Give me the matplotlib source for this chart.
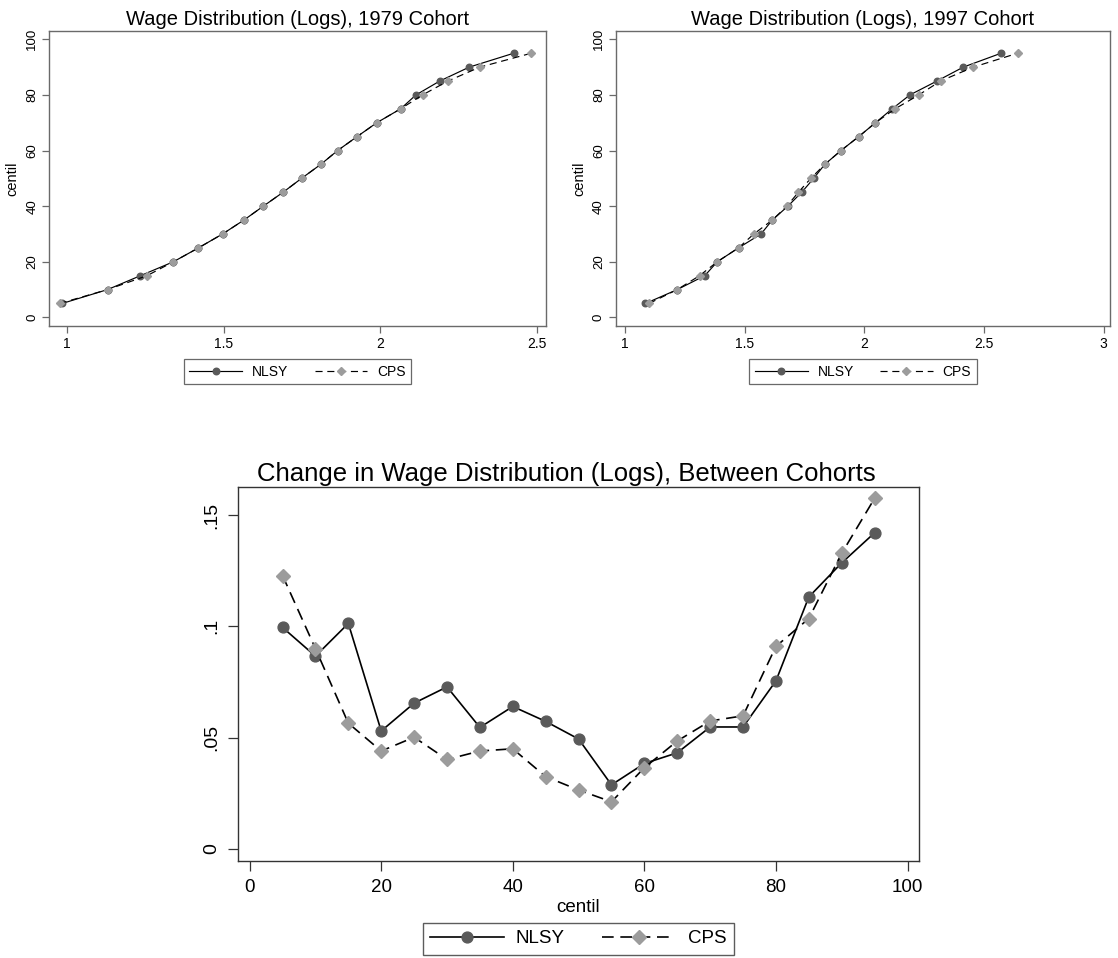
import matplotlib
matplotlib.use("Agg")
import matplotlib.pyplot as plt

plt.rcParams['font.family'] = ['Liberation Sans', 'DejaVu Sans']

# percentiles shown on every panel
centiles = [5, 10, 15, 20, 25, 30, 35, 40, 45, 50,
            55, 60, 65, 70, 75, 80, 85, 90, 95]

# log wage at each percentile, 1979 cohort
nlsy_1979 = [0.985, 1.130, 1.235, 1.340, 1.420, 1.497, 1.565, 1.627, 1.690, 1.749,
             1.810, 1.864, 1.926, 1.989, 2.065, 2.114, 2.190, 2.284, 2.426]
cps_1979 = [0.977, 1.130, 1.256, 1.340, 1.420, 1.497, 1.565, 1.627, 1.690, 1.749,
            1.810, 1.864, 1.926, 1.989, 2.065, 2.135, 2.216, 2.318, 2.482]

# log wage at each percentile, 1997 cohort
nlsy_1997 = [1.085, 1.218, 1.333, 1.385, 1.474, 1.568, 1.615, 1.680, 1.738, 1.788,
             1.834, 1.902, 1.976, 2.046, 2.116, 2.190, 2.303, 2.413, 2.571]
cps_1997 = [1.100, 1.218, 1.311, 1.385, 1.474, 1.538, 1.615, 1.676, 1.724, 1.776,
            1.834, 1.902, 1.976, 2.046, 2.128, 2.227, 2.318, 2.455, 2.640]

# change between cohorts
nlsy_change = [0.0995, 0.0866, 0.1013, 0.0530, 0.0655, 0.0728, 0.0546, 0.0640, 0.0573, 0.0494,
               0.0288, 0.0384, 0.0432, 0.0548, 0.0548, 0.0755, 0.1132, 0.1285, 0.1420]
cps_change = [0.1228, 0.0900, 0.0565, 0.0440, 0.0502, 0.0402, 0.0440, 0.0450, 0.0325, 0.0265,
              0.0212, 0.0365, 0.0485, 0.0575, 0.0598, 0.0910, 0.1035, 0.1328, 0.1575]

top_xticks = [[1, 1.5, 2, 2.5], [1, 1.5, 2, 2.5, 3]]
top_xlabels = [["1", "1.5", "2", "2.5"], ["1", "1.5", "2", "2.5", "3"]]
top_yticks = [0, 20, 40, 60, 80, 100]
bot_xticks = [0, 20, 40, 60, 80, 100]
bot_yticks = [0, 0.05, 0.1, 0.15]
bot_ylabels = ["0", ".05", ".1", ".15"]

NLSY_MK = '#5a5a5a'
CPS_MK = '#9c9c9c'

W, H = 1118, 958
fig = plt.figure(figsize=(W / 100, H / 100), dpi=100)


def px_axes(left, top, right, bottom):
    return fig.add_axes([left / W, 1 - bottom / H, (right - left) / W, (bottom - top) / H])


def style_axes(ax, spine_color, tick_len, xfs, yfs, pad):
    for side in ('top', 'right', 'left', 'bottom'):
        ax.spines[side].set_color(spine_color)
        ax.spines[side].set_linewidth(1.0)
    ax.tick_params(axis='both', direction='out', length=tick_len, width=0.9,
                   color=spine_color, pad=pad)
    ax.tick_params(axis='x', labelsize=xfs)
    ax.tick_params(axis='y', labelsize=yfs)
    for lab in ax.get_yticklabels():
        lab.set_rotation(90)
        lab.set_va('center')


# ---- top panels ----
top_specs = [
    ((49.3, 30.7, 545.7, 326), nlsy_1979, cps_1979, (0.944, 2.528), "Wage Distribution (Logs), 1979 Cohort"),
    ((616, 30.7, 1110, 326), nlsy_1997, cps_1997, (0.962, 3.026), "Wage Distribution (Logs), 1997 Cohort"),
]
for i, (box, nlsy, cps, xlim, title) in enumerate(top_specs):
    ax = px_axes(*box)
    ax.plot(nlsy, centiles, color='black', lw=0.85, marker='o', ms=4.7,
            mfc=NLSY_MK, mec=NLSY_MK, label='NLSY')
    ax.plot(cps, centiles, color='black', lw=0.85, ls=(0, (6, 4)), marker='D', ms=4.4,
            mfc=CPS_MK, mec=CPS_MK, label='CPS')
    ax.set_xlim(*xlim)
    ax.set_ylim(-3.1, 103.1)
    ax.set_xticks(top_xticks[i])
    ax.set_xticklabels(top_xlabels[i])
    ax.set_yticks(top_yticks)
    ax.set_yticklabels([str(v) for v in top_yticks])
    style_axes(ax, '#6a6a6a', 5, 10, 9.5, 3)
    ax.set_ylabel('centil', fontsize=10.5, labelpad=5)
    ax.set_title(title, fontsize=14.5, pad=4)
    leg = ax.legend(loc='upper center', bbox_to_anchor=(0.5, -0.112), ncol=2,
                    fontsize=10, frameon=True, fancybox=False, borderaxespad=0,
                    handlelength=3.8, handletextpad=0.7, columnspacing=1.9,
                    borderpad=0.4)
    leg.get_frame().set_edgecolor('#444444')
    leg.get_frame().set_linewidth(0.9)

# ---- bottom panel ----
ax = px_axes(238, 486.7, 918.7, 860.7)
ax.plot(centiles, nlsy_change, color='black', lw=1.2, marker='o', ms=7.8,
        mfc=NLSY_MK, mec=NLSY_MK, label='NLSY')
ax.plot(centiles, cps_change, color='black', lw=1.2, ls=(0, (7, 4)), marker='D', ms=7.0,
        mfc=CPS_MK, mec=CPS_MK, label='CPS')
ax.set_xlim(-1.77, 101.7)
ax.set_ylim(-0.00525, 0.1627)
ax.set_xticks(bot_xticks)
ax.set_xticklabels([str(v) for v in bot_xticks])
ax.set_yticks(bot_yticks)
ax.set_yticklabels(bot_ylabels)
style_axes(ax, '#333333', 7, 13.5, 14, 6)
ax.set_xlabel('centil', fontsize=13.5, labelpad=2)
# the title is centred on the whole panel, y labels included
ax.set_title('Change in Wage Distribution (Logs), Between Cohorts', fontsize=18.5, pad=4, x=0.482)
leg = ax.legend(loc='upper center', bbox_to_anchor=(0.5, -0.166), ncol=2,
                fontsize=13.5, frameon=True, fancybox=False, borderaxespad=0,
                handlelength=3.9, handletextpad=0.65, columnspacing=2.0,
                borderpad=0.4)
leg.get_frame().set_edgecolor('#333333')
leg.get_frame().set_linewidth(1.0)

fig.savefig('out.png', dpi=100, facecolor='white')
